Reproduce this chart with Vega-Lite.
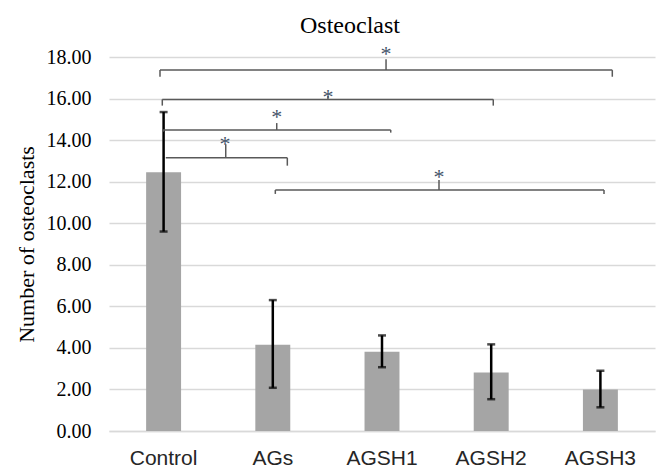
{
  "$schema": "https://vega.github.io/schema/vega-lite/v6.json",
  "width": 546,
  "height": 374,
  "autosize": {"type": "none"},
  "padding": {"left": 109, "top": 57, "right": 4, "bottom": 37},
  "background": "white",
  "title": {
    "text": "Osteoclast",
    "font": "Liberation Serif",
    "fontSize": 24,
    "fontWeight": "normal",
    "color": "#000000",
    "frame": "bounds",
    "anchor": "middle",
    "offset": 5,
    "dx": 15
  },
  "config": {"view": {"stroke": null}},
  "datasets": {
    "bars": [
      {"group": "Control", "mean": 12.45, "low": 9.6, "high": 15.35},
      {"group": "AGs", "mean": 4.15, "low": 2.08, "high": 6.3},
      {"group": "AGSH1", "mean": 3.82, "low": 3.07, "high": 4.6},
      {"group": "AGSH2", "mean": 2.82, "low": 1.53, "high": 4.17},
      {"group": "AGSH3", "mean": 2.0, "low": 1.14, "high": 2.9}
    ],
    "segments": [
      {"x": 0.467, "x2": 4.609, "y": 17.37, "y2": 17.37},
      {"x": 0.467, "x2": 0.467, "y": 17.37, "y2": 17.05},
      {"x": 4.609, "x2": 4.609, "y": 17.37, "y2": 17.05},
      {"x": 2.537, "x2": 2.537, "y": 17.37, "y2": 17.89},
      {"x": 0.488, "x2": 3.519, "y": 15.96, "y2": 15.96},
      {"x": 0.488, "x2": 0.488, "y": 15.96, "y2": 15.66},
      {"x": 3.519, "x2": 3.519, "y": 15.96, "y2": 15.66},
      {"x": 2.005, "x2": 2.005, "y": 15.96, "y2": 16.12},
      {"x": 0.495, "x2": 2.58, "y": 14.49, "y2": 14.49},
      {"x": 0.495, "x2": 0.495, "y": 14.49, "y2": 14.4},
      {"x": 2.58, "x2": 2.58, "y": 14.49, "y2": 14.36},
      {"x": 1.536, "x2": 1.536, "y": 14.49, "y2": 14.82},
      {"x": 0.52, "x2": 1.633, "y": 13.15, "y2": 13.15},
      {"x": 1.633, "x2": 1.633, "y": 13.15, "y2": 12.77},
      {"x": 1.069, "x2": 1.069, "y": 13.15, "y2": 13.8},
      {"x": 1.523, "x2": 4.533, "y": 11.6, "y2": 11.6},
      {"x": 1.523, "x2": 1.523, "y": 11.6, "y2": 11.41},
      {"x": 4.533, "x2": 4.533, "y": 11.6, "y2": 11.41},
      {"x": 3.022, "x2": 3.022, "y": 11.6, "y2": 12.08}
    ],
    "stars": [
      {"x": 2.537, "y": 18.37, "label": "*"},
      {"x": 2.005, "y": 16.33, "label": "*"},
      {"x": 1.536, "y": 15.34, "label": "*"},
      {"x": 1.062, "y": 14.05, "label": "*"},
      {"x": 3.022, "y": 12.47, "label": "*"}
    ]
  },
  "layer": [
    {
      "data": {"name": "bars"},
      "encoding": {
        "x": {
          "field": "group",
          "type": "nominal",
          "sort": null,
          "scale": {"paddingInner": 0.68, "paddingOuter": 0.34},
          "axis": {
            "title": null,
            "labelAngle": 0,
            "labelFont": "Liberation Sans",
            "labelFontSize": 21,
            "labelColor": "#262626",
            "labelPadding": 16,
            "ticks": false,
            "domain": true,
            "domainColor": "#d9d9d9",
            "domainWidth": 1.5,
            "grid": false
          }
        }
      },
      "layer": [
        {
          "mark": {"type": "bar", "color": "#a5a5a5"},
          "encoding": {
            "y": {
              "field": "mean",
              "type": "quantitative",
              "scale": {"domain": [0, 18], "nice": false},
              "axis": {
                "title": "Number of osteoclasts",
                "titleFont": "Liberation Serif",
                "titleFontSize": 22,
                "titleFontWeight": "normal",
                "titleColor": "#000000",
                "titlePadding": 8,
                "values": [0, 2, 4, 6, 8, 10, 12, 14, 16, 18],
                "format": ".2f",
                "labelFont": "Liberation Serif",
                "labelFontSize": 20,
                "labelColor": "#000000",
                "labelPadding": 18,
                "ticks": false,
                "domain": false,
                "grid": true,
                "gridColor": "#d9d9d9",
                "gridWidth": 1.5
              }
            }
          }
        },
        {
          "mark": {"type": "rule", "color": "#000000", "strokeWidth": 2.5},
          "encoding": {
            "y": {"field": "low", "type": "quantitative"},
            "y2": {"field": "high"}
          }
        },
        {
          "mark": {"type": "tick", "color": "#000000", "size": 8, "thickness": 2.5},
          "encoding": {"y": {"field": "low", "type": "quantitative"}}
        },
        {
          "mark": {"type": "tick", "color": "#000000", "size": 8, "thickness": 2.5},
          "encoding": {"y": {"field": "high", "type": "quantitative"}}
        }
      ]
    },
    {
      "encoding": {
        "x": {"field": "x", "type": "quantitative", "scale": {"domain": [0, 5], "nice": false, "zero": false}, "axis": null},
        "y": {"field": "y", "type": "quantitative"}
      },
      "layer": [
        {
          "data": {"name": "segments"},
          "mark": {"type": "rule", "color": "#595959", "strokeWidth": 1.5},
          "encoding": {
            "x2": {"field": "x2"},
            "y2": {"field": "y2"}
          }
        },
        {
          "data": {"name": "stars"},
          "mark": {"type": "text", "font": "Liberation Serif", "fontSize": 22, "color": "#44546a", "baseline": "middle", "align": "center", "dy": 5},
          "encoding": {
            "text": {"field": "label"}
          }
        }
      ]
    }
  ],
  "resolve": {"scale": {"x": "independent"}, "axis": {"x": "independent"}}
}
